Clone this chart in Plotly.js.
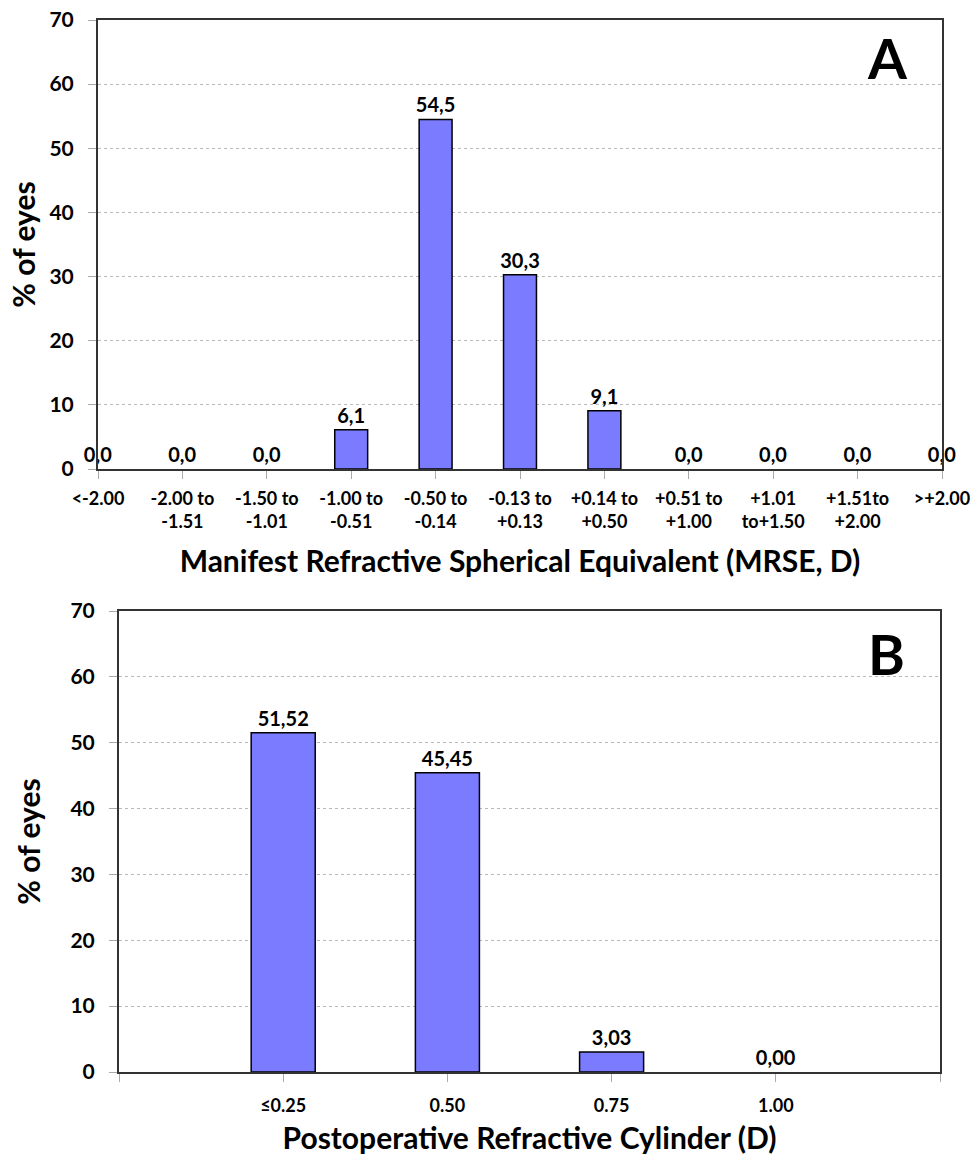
<!DOCTYPE html>
<html>
<head>
<meta charset="utf-8">
<script src="https://cdn.plot.ly/plotly-3.0.1.min.js"></script>
<style>html,body{margin:0;padding:0;background:#fff;}#chart{width:972px;height:1155px;}</style>
</head>
<body>
<div id="chart"></div>
<script>
// ---- Data: panel A (MRSE) ----
const mrseCategories = ["&lt;-2.00", "-2.00 to<br>-1.51", "-1.50 to<br>-1.01", "-1.00 to<br>-0.51", "-0.50 to<br>-0.14", "-0.13 to<br>+0.13", "+0.14 to<br>+0.50", "+0.51 to<br>+1.00", "+1.01<br>to+1.50", "+1.51to<br>+2.00", "&gt;+2.00"];
const mrseValues = [0.0, 0.0, 0.0, 6.1, 54.5, 30.3, 9.1, 0.0, 0.0, 0.0, 0.0];
const mrseLabels = ["0,0", "0,0", "0,0", "6,1", "54,5", "30,3", "9,1", "0,0", "0,0", "0,0", "0,0"];

// ---- Data: panel B (cylinder) ----
const cylCategories = ["≤0.25", "0.50", "0.75", "1.00"];
const cylValues = [51.52, 45.45, 3.03, 0.00];
const cylLabels = ["51,52", "45,45", "3,03", "0,00"];

const yTicks = [0, 10, 20, 30, 40, 50, 60, 70];

const FONT = "Lato, 'Open Sans', sans-serif";
const barColor = "#7b7bff";

const mrseX = mrseCategories.map((_, i) => i);
const cylX = cylCategories.map((_, i) => i + 1);
const outline = vals => vals.map(v => (v > 0 ? 1.5 : 0));

const labelFont = {family: FONT, size: 20, color: "#000", weight: "bold"};

const traces = [
  {
    type: "bar", x: mrseX, y: mrseValues, text: mrseLabels,
    textposition: "outside", constraintext: "none", cliponaxis: false, textfont: labelFont,
    marker: {color: barColor, line: {color: "#000", width: outline(mrseValues)}},
    width: 0.39, xaxis: "x", yaxis: "y", hoverinfo: "skip"
  },
  {
    type: "bar", x: cylX, y: cylValues, text: cylLabels,
    textposition: "outside", constraintext: "none", cliponaxis: false, textfont: labelFont,
    marker: {color: barColor, line: {color: "#000", width: outline(cylValues)}},
    width: 0.39, xaxis: "x2", yaxis: "y2", hoverinfo: "skip"
  }
];

const tickFont = {family: FONT, size: 21, color: "#000", weight: "bold"};
const xTickFont = {family: FONT, size: 18, color: "#000", weight: "bold"};
const titleFont = {family: FONT, size: 30, color: "#000", weight: "bold"};

function yAxis(domain, anchor, standoff) {
  return {
    domain: domain, anchor: anchor, range: [0, 70], tickvals: yTicks,
    ticks: "outside", ticklen: 8, tickcolor: "#aaa", ticklabelstandoff: 10,
    showgrid: true, gridcolor: "#b8b8b8", griddash: "dot", gridwidth: 1,
    showline: true, linecolor: "#333", linewidth: 2, mirror: true,
    zeroline: false, tickfont: tickFont,
    title: {text: "% of eyes", font: titleFont, standoff: standoff}
  };
}

const layout = {
  width: 972, height: 1155,
  margin: {l: 0, r: 0, t: 0, b: 0},
  paper_bgcolor: "#fff", plot_bgcolor: "#fff",
  showlegend: false,
  bargap: 0,
  xaxis: {
    domain: [98/972, 942/972], anchor: "y", range: [0, 10],
    tickvals: mrseX, ticktext: mrseCategories,
    ticks: "outside", ticklen: 8, tickcolor: "#aaa", ticklabelstandoff: 4,
    showline: true, linecolor: "#333", linewidth: 2, mirror: true,
    showgrid: false, zeroline: false, tickfont: xTickFont,
    title: {text: "Manifest Refractive Spherical Equivalent (MRSE, D)", font: titleFont, standoff: 20}
  },
  yaxis: yAxis([1 - 469/1155, 1 - 20/1155], "x", 5),
  xaxis2: {
    domain: [119/972, 940/972], anchor: "y2", range: [0, 5],
    tickvals: [0].concat(cylX, [5]), ticktext: [""].concat(cylCategories, [""]),
    ticks: "outside", ticklen: 8, tickcolor: "#aaa", ticklabelstandoff: 8,
    showline: true, linecolor: "#333", linewidth: 2, mirror: true,
    showgrid: false, zeroline: false, tickfont: xTickFont,
    title: {text: "Postoperative Refractive Cylinder (D)", font: titleFont, standoff: 14}
  },
  yaxis2: yAxis([1 - 1072/1155, 1 - 611/1155], "x2", 21),
  annotations: [
    {text: "A", xref: "paper", yref: "paper", x: 887/972, y: 1 - 58/1155,
     xanchor: "center", yanchor: "middle",
     showarrow: false, font: {family: FONT, size: 56, color: "#000", weight: "bold"}},
    {text: "B", xref: "paper", yref: "paper", x: 886/972, y: 1 - 653/1155,
     xanchor: "center", yanchor: "middle",
     showarrow: false, font: {family: FONT, size: 56, color: "#000", weight: "bold"}}
  ]
};

Plotly.newPlot("chart", traces, layout, {staticPlot: true, displayModeBar: false});
</script>
</body>
</html>
